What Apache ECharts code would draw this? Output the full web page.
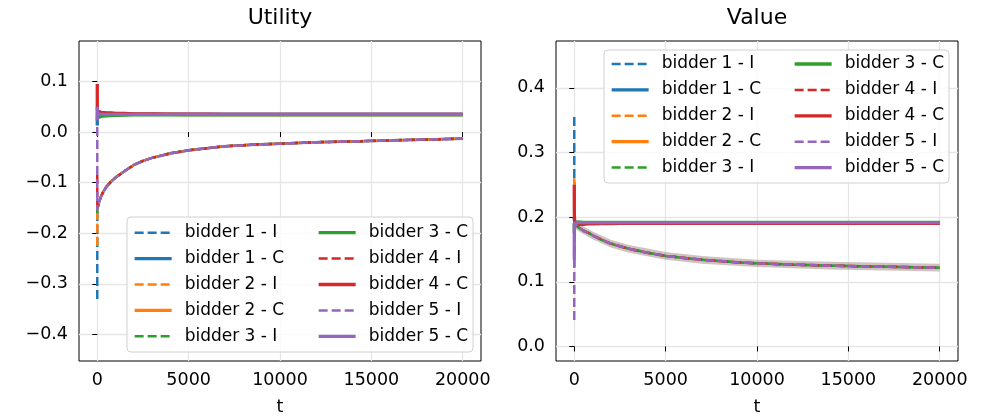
<!DOCTYPE html>
<html>
<head>
<meta charset="utf-8">
<script src="https://cdn.jsdelivr.net/npm/echarts@6/dist/echarts.min.js"></script>
<style>html,body{margin:0;padding:0;background:#fff}#c{width:992px;height:416px}</style>
</head>
<body>
<div id="c"></div>
<script>
// ---- data ----
const tData = [0,1,2,5,10,20,50,100,200,300,500,750,1000,1500,2000,2500,3000,4000,5000,6000,7000,8000,9000,10000,12000,14000,16000,18000,20000];
const names = ['bidder 1 - I','bidder 1 - C','bidder 2 - I','bidder 2 - C','bidder 3 - I','bidder 3 - C','bidder 4 - I','bidder 4 - C','bidder 5 - I','bidder 5 - C'];
const colors = ['#1f77b4','#ff7f0e','#2ca02c','#d62728','#9467bd'];

// Utility
const uI1 = [-0.330,-0.200,-0.170,-0.160,-0.155,-0.150,-0.146,-0.138,-0.128,-0.120,-0.108,-0.098,-0.090,-0.077,-0.065,-0.057,-0.051,-0.042,-0.036,-0.032,-0.028,-0.026,-0.024,-0.023,-0.020,-0.0185,-0.0165,-0.0148,-0.013];
const uC1 = [0.013,0.030,0.034,0.035,0.035,0.035,0.035,0.035,0.035,0.035,0.035,0.035,0.035,0.035,0.035,0.035,0.035,0.035,0.035,0.035,0.035,0.035,0.035,0.035,0.035,0.035,0.035,0.035,0.035];
const uI2 = [-0.225,-0.170,-0.160,-0.155,-0.152,-0.150,-0.146,-0.138,-0.128,-0.120,-0.108,-0.098,-0.090,-0.077,-0.065,-0.057,-0.051,-0.042,-0.036,-0.032,-0.028,-0.026,-0.024,-0.023,-0.020,-0.0185,-0.0165,-0.0148,-0.013];
const uC2 = [0.040,0.036,0.035,0.035,0.035,0.035,0.035,0.035,0.035,0.035,0.035,0.035,0.035,0.035,0.035,0.035,0.035,0.035,0.0345,0.0345,0.0345,0.0345,0.0345,0.0345,0.0345,0.0345,0.0345,0.0345,0.0345];
const uI3 = [-0.160,-0.155,-0.153,-0.152,-0.151,-0.150,-0.146,-0.138,-0.128,-0.120,-0.108,-0.098,-0.090,-0.077,-0.065,-0.057,-0.051,-0.042,-0.036,-0.032,-0.028,-0.026,-0.024,-0.023,-0.020,-0.0185,-0.0165,-0.0148,-0.013];
const uC3 = [0.028,0.029,0.030,0.030,0.030,0.030,0.030,0.0305,0.031,0.0315,0.032,0.0325,0.033,0.0335,0.034,0.034,0.034,0.034,0.034,0.034,0.034,0.034,0.034,0.034,0.034,0.034,0.034,0.034,0.034];
const uI4 = [-0.085,-0.120,-0.140,-0.148,-0.150,-0.150,-0.146,-0.138,-0.128,-0.120,-0.108,-0.098,-0.090,-0.077,-0.065,-0.057,-0.051,-0.042,-0.036,-0.032,-0.028,-0.026,-0.024,-0.023,-0.020,-0.0185,-0.0165,-0.0148,-0.013];
const uC4 = [0.095,0.050,0.042,0.040,0.039,0.039,0.039,0.039,0.039,0.038,0.038,0.038,0.037,0.037,0.036,0.036,0.036,0.0355,0.0355,0.0355,0.035,0.035,0.035,0.035,0.035,0.035,0.035,0.035,0.035];
const uI5 = [0.010,-0.150,-0.155,-0.153,-0.151,-0.150,-0.146,-0.138,-0.128,-0.120,-0.108,-0.098,-0.090,-0.077,-0.065,-0.057,-0.051,-0.042,-0.036,-0.032,-0.028,-0.026,-0.024,-0.023,-0.020,-0.0185,-0.0165,-0.0148,-0.013];
const uC5 = [0.023,0.050,0.045,0.040,0.038,0.037,0.036,0.036,0.0355,0.035,0.035,0.035,0.035,0.035,0.035,0.035,0.035,0.035,0.035,0.035,0.035,0.035,0.035,0.035,0.035,0.035,0.035,0.035,0.035];

// Value
const vI1 = [0.355,0.250,0.210,0.195,0.190,0.190,0.189,0.187,0.185,0.183,0.179,0.176,0.172,0.165,0.159,0.155,0.151,0.145,0.140,0.137,0.134,0.132,0.130,0.1286,0.1265,0.1250,0.1238,0.1228,0.1218];
const vC1 = [0.200,0.198,0.196,0.195,0.194,0.193,0.192,0.192,0.1915,0.1915,0.1915,0.1915,0.1915,0.1915,0.1915,0.1915,0.1915,0.1915,0.1915,0.1915,0.1915,0.1915,0.1915,0.1915,0.1915,0.1915,0.1915,0.1915,0.1915];
const vI2 = [0.260,0.200,0.190,0.190,0.190,0.190,0.189,0.187,0.185,0.183,0.179,0.176,0.172,0.165,0.159,0.155,0.151,0.145,0.140,0.137,0.134,0.132,0.130,0.1286,0.1265,0.1250,0.1238,0.1228,0.1218];
const vC2 = [0.190,0.191,0.1915,0.1915,0.1915,0.1915,0.1915,0.1915,0.1915,0.1915,0.1915,0.1915,0.1915,0.1915,0.1915,0.1915,0.1915,0.1915,0.1915,0.1915,0.1915,0.1915,0.1915,0.1915,0.1915,0.1915,0.1915,0.1915,0.1915];
const vI3 = [0.170,0.185,0.190,0.190,0.190,0.190,0.189,0.187,0.185,0.183,0.179,0.176,0.172,0.165,0.159,0.155,0.151,0.145,0.140,0.137,0.134,0.132,0.130,0.1286,0.1265,0.1250,0.1238,0.1228,0.1218];
const vC3 = [0.175,0.185,0.190,0.192,0.193,0.193,0.193,0.1925,0.1925,0.192,0.192,0.192,0.192,0.192,0.192,0.192,0.192,0.192,0.192,0.192,0.192,0.192,0.192,0.192,0.192,0.192,0.192,0.192,0.192];
const vI4 = [0.123,0.170,0.185,0.190,0.190,0.190,0.189,0.187,0.185,0.183,0.179,0.176,0.172,0.165,0.159,0.155,0.151,0.145,0.140,0.137,0.134,0.132,0.130,0.1286,0.1265,0.1250,0.1238,0.1228,0.1218];
const vC4 = [0.250,0.230,0.215,0.205,0.200,0.195,0.190,0.189,0.189,0.189,0.189,0.1895,0.1895,0.190,0.190,0.1905,0.1905,0.1905,0.1905,0.1905,0.1905,0.1905,0.1905,0.1905,0.1905,0.1905,0.1905,0.1905,0.1905];
const vI5 = [0.041,0.170,0.185,0.190,0.190,0.190,0.189,0.187,0.185,0.183,0.179,0.176,0.172,0.165,0.159,0.155,0.151,0.145,0.140,0.137,0.134,0.132,0.130,0.1286,0.1265,0.1250,0.1238,0.1228,0.1218];
const vC5 = [0.135,0.185,0.190,0.191,0.192,0.192,0.1915,0.1915,0.1915,0.1915,0.1915,0.1915,0.1915,0.1915,0.1915,0.1915,0.1915,0.1915,0.1915,0.1915,0.1915,0.1915,0.1915,0.1915,0.1915,0.1915,0.1915,0.1915,0.1915];

// confidence bands (faint)
const bandT = [0,1,5,20,100,300,1000,2000,3000,5000,7000,10000,14000,20000];
const uIbandLo = [-0.42,-0.180,-0.157,-0.153,-0.141,-0.123,-0.093,-0.068,-0.054,-0.039,-0.031,-0.026,-0.021,-0.016];
const uIbandHi = [0.000,-0.130,-0.149,-0.147,-0.135,-0.117,-0.087,-0.062,-0.048,-0.033,-0.025,-0.020,-0.016,-0.010];
const uCbandLo = [0.000,0.020,0.028,0.029,0.030,0.030,0.030,0.031,0.031,0.031,0.031,0.031,0.031,0.031];
const uCbandHi = [0.150,0.060,0.045,0.043,0.042,0.041,0.040,0.039,0.039,0.039,0.039,0.039,0.039,0.039];
const vIbandLo = [0.000,0.150,0.180,0.184,0.181,0.177,0.166,0.153,0.145,0.134,0.128,0.123,0.119,0.116];
const vIbandHi = [0.450,0.260,0.200,0.196,0.193,0.189,0.178,0.165,0.157,0.146,0.140,0.134,0.131,0.128];
const vCbandLo = [0.120,0.170,0.185,0.188,0.188,0.189,0.189,0.189,0.189,0.189,0.189,0.189,0.189,0.189];
const vCbandHi = [0.270,0.230,0.205,0.198,0.195,0.194,0.194,0.194,0.194,0.194,0.194,0.194,0.194,0.194];

const xTicks = [0,5000,10000,15000,20000];
const uYTicks = [-0.4,-0.3,-0.2,-0.1,0.0,0.1];
const vYTicks = [0.0,0.1,0.2,0.3,0.4];

// ---- chart ----
const FONT = 'DejaVu Sans';
const W_I = 2.5, W_C = 3.3;
const uSeriesVals = [uI1,uC1,uI2,uC2,uI3,uC3,uI4,uC4,uI5,uC5];
const vSeriesVals = [vI1,vC1,vI2,vC2,vI3,vC3,vI4,vC4,vI5,vC5];

function lineSeries(idx, vals, gi) {
  const isI = idx % 2 === 0;
  return {
    type: 'line', name: names[idx], xAxisIndex: gi, yAxisIndex: gi,
    data: tData.map((t, i) => [t, vals[i]]),
    symbol: 'none', showSymbol: false, animation: false, z: 3,
    color: colors[Math.floor(idx / 2)],
    lineStyle: { width: isI ? W_I : W_C, type: isI ? [9, 4] : 'solid', color: colors[Math.floor(idx / 2)] }
  };
}
function bandSeries(gi, lo, hi, fill) {
  return {
    type: 'custom', xAxisIndex: gi, yAxisIndex: gi, silent: true, z: 1, clip: true, animation: false,
    data: bandT.map((t, i) => [t, lo[i], hi[i]]),
    encode: { x: 0, y: [1, 2] },
    renderItem(params, api) {
      if (params.dataIndex !== 0) return null;
      const pts = [];
      for (let i = 0; i < bandT.length; i++) pts.push(api.coord([bandT[i], hi[i]]));
      for (let i = bandT.length - 1; i >= 0; i--) pts.push(api.coord([bandT[i], lo[i]]));
      return { type: 'polygon', shape: { points: pts }, style: { fill: fill, stroke: null } };
    }
  };
}
const fmtY = v => v.toFixed(1).replace('-', '\u2212');
function xAxis(gi) {
  return {
    type: 'value', gridIndex: gi, min: -1000, max: 21000,
    name: 't', nameLocation: 'middle', nameGap: 37,
    nameTextStyle: { fontFamily: FONT, fontSize: 17.5, color: '#000' },
    axisLine: { show: false },
    axisTick: { show: true, length: 5, customValues: xTicks, lineStyle: { color: '#000', width: 1 } },
    axisLabel: { customValues: xTicks, fontFamily: FONT, fontSize: 17.5, color: '#000', margin: 10, formatter: v => String(v) },
    splitLine: { show: true, lineStyle: { color: '#e6e6e6', width: 1.3 } }
  };
}
function yAxis(gi, min, max, ticks) {
  return {
    type: 'value', gridIndex: gi, min: min, max: max,
    axisLine: { show: false },
    axisTick: { show: true, length: 5, customValues: ticks, lineStyle: { color: '#000', width: 1 } },
    axisLabel: { customValues: ticks, fontFamily: FONT, fontSize: 17.5, color: '#000', margin: 11, formatter: fmtY },
    splitLine: { show: true, lineStyle: { color: '#e6e6e6', width: 1.3 } }
  };
}
function legend(left, top, data) {
  return {
    orient: 'vertical', left: left, top: top, padding: 0, itemGap: 5.9,
    itemWidth: 37, itemHeight: 20, selectedMode: false, z: 10,
    data: data.map(n => ({ name: n, lineStyle: { width: / - I$/.test(n) ? W_I : W_C } })),
    itemStyle: { opacity: 0 },
    textStyle: { fontFamily: FONT, fontSize: 17, lineHeight: 20, color: '#000', padding: [0, 0, 0, 8] }
  };
}

const series = [];
series.push(bandSeries(0, uIbandLo, uIbandHi, 'rgba(150,140,140,0.30)'));
series.push(bandSeries(0, uCbandLo, uCbandHi, 'rgba(170,120,120,0.40)'));
series.push(bandSeries(1, vIbandLo, vIbandHi, 'rgba(150,120,110,0.45)'));
series.push(bandSeries(1, vCbandLo, vCbandHi, 'rgba(180,130,120,0.25)'));
uSeriesVals.forEach((v, i) => series.push(lineSeries(i, v, 0)));
vSeriesVals.forEach((v, i) => series.push(lineSeries(i, v, 1)));

const chart = echarts.init(document.getElementById('c'), null, { renderer: 'canvas' });
chart.setOption({
  animation: false,
  backgroundColor: '#fff',
  textStyle: { fontFamily: FONT },
  title: [
    { text: 'Utility', left: 280, top: 7, textAlign: 'center', padding: 0, textStyle: { fontFamily: FONT, fontSize: 22, fontWeight: 'normal', color: '#000' } },
    { text: 'Value', left: 757, top: 7, textAlign: 'center', padding: 0, textStyle: { fontFamily: FONT, fontSize: 22, fontWeight: 'normal', color: '#000' } }
  ],
  grid: [
    { left: 79, top: 41, width: 402, height: 320, outerBoundsMode: 'none', containLabel: false, show: true, borderColor: '#000', borderWidth: 1, backgroundColor: 'transparent' },
    { left: 556, top: 41, width: 402, height: 320, outerBoundsMode: 'none', containLabel: false, show: true, borderColor: '#000', borderWidth: 1, backgroundColor: 'transparent' }
  ],
  xAxis: [xAxis(0), xAxis(1)],
  yAxis: [yAxis(0, -0.4526, 0.180, uYTicks), yAxis(1, -0.0225, 0.4725, vYTicks)],
  legend: [
    legend(133, 222.7, names.slice(0, 5)),
    legend(317, 222.7, names.slice(5)),
    legend(610, 54, names.slice(0, 5)),
    legend(793, 54, names.slice(5))
  ],
  graphic: [
    { type: 'rect', z: 8, shape: { x: 127, y: 217, width: 346, height: 135, r: 4 }, style: { fill: 'rgba(255,255,255,0.8)', stroke: '#d0d0d0', lineWidth: 1 } },
    { type: 'rect', z: 8, shape: { x: 604, y: 50, width: 345, height: 133, r: 4 }, style: { fill: 'rgba(255,255,255,0.8)', stroke: '#d0d0d0', lineWidth: 1 } }
  ],
  series: series
});
</script>
</body>
</html>
